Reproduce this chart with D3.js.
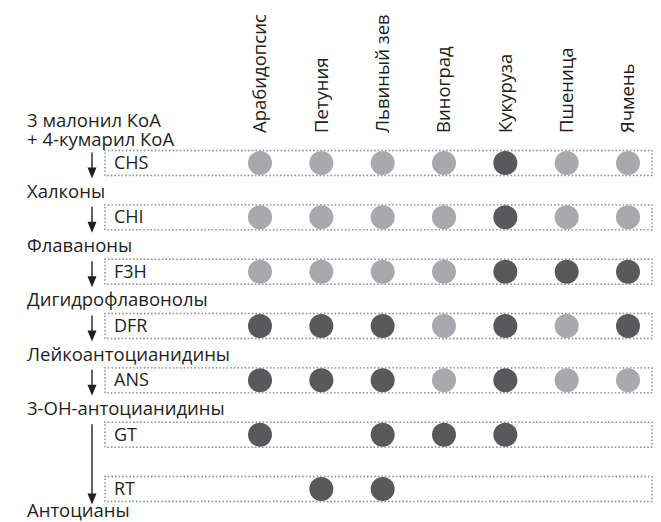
<!DOCTYPE html>
<html>
<head>
<meta charset="utf-8">
<script src="https://cdn.jsdelivr.net/npm/d3@7"></script>
<style>
  body { margin: 0; background: #fff; }
  text { font-family: "Open Sans", sans-serif; fill: #231f20; }
</style>
</head>
<body>
<div id="chart"></div>
<script>
// Species (columns)
const species = ['Арабидопсис', 'Петуния', 'Львиный зев', 'Виноград', 'Кукуруза', 'Пшеница', 'Ячмень'];

// Enzymes (rows)
const enzymes = ['CHS', 'CHI', 'F3H', 'DFR', 'ANS', 'GT', 'RT'];

// Compounds between steps
const startCompound = ['3 малонил КоА', '+ 4-кумарил КоА'];
const compounds = ['Халконы', 'Флаваноны', 'Дигидрофлавонолы', 'Лейкоантоцианидины', '3-OH-антоцианидины', null, 'Антоцианы'];

// 1 = dark (expressed), 0 = light, null = nothing
const expression = [
    [0, 0, 0, 0, 1, 0, 0],
    [0, 0, 0, 0, 1, 0, 0],
    [0, 0, 0, 0, 1, 1, 1],
    [1, 1, 1, 0, 1, 0, 1],
    [1, 1, 1, 0, 1, 0, 0],
    [1, null, 1, 1, 1, null, null],
    [null, 1, 1, null, null, null, null]
];

// arrows: [from enzyme, to enzyme]
const arrows = [['CHS', 'CHS'], ['CHI', 'CHI'], ['F3H', 'F3H'], ['DFR', 'DFR'], ['ANS', 'ANS'], ['GT', 'RT']];

const width = 661;
const height = 522;

const svg = d3.select('#chart')
    .append('svg')
    .attr('width', width)
    .attr('height', height);

const x = d3.scalePoint().domain(species).range([260, 628]);
const y = d3.scalePoint().domain(enzymes).range([163, 489]);
const color = d3.scaleOrdinal().domain([0, 1]).range(['#a7a9ac', '#58595b']);

const boxLeft = 105;
const boxRight = 652;
const boxH = 25;
const arrowX = 92;

// Column headers
svg.append('g')
    .selectAll('text')
    .data(species)
    .enter()
    .append('text')
    .attr('transform', d => `translate(${x(d)},133) rotate(-90)`)
    .attr('dy', '0.35em')
    .attr('font-size', 18.5)
    .text(d => d);

// Dotted boxes
svg.append('g')
    .selectAll('rect')
    .data(enzymes)
    .enter()
    .append('rect')
    .attr('x', boxLeft)
    .attr('y', d => y(d) - boxH / 2)
    .attr('width', boxRight - boxLeft)
    .attr('height', boxH)
    .attr('fill', 'none')
    .attr('stroke', '#939598')
    .attr('stroke-width', 1.8)
    .attr('stroke-linecap', 'round')
    .attr('stroke-dasharray', '0,3.6');

// Enzyme labels
svg.append('g')
    .selectAll('text')
    .data(enzymes)
    .enter()
    .append('text')
    .attr('x', 114)
    .attr('y', d => y(d) + 6)
    .attr('font-size', 18)
    .text(d => d);

// Circles
const cells = [];
expression.forEach((row, i) => {
    row.forEach((v, j) => {
        if (v !== null) cells.push({ enzyme: enzymes[i], species: species[j], v: v });
    });
});

svg.append('g')
    .selectAll('circle')
    .data(cells)
    .enter()
    .append('circle')
    .attr('cx', d => x(d.species))
    .attr('cy', d => y(d.enzyme))
    .attr('r', 12)
    .attr('fill', d => color(d.v));

// Start compound (two lines)
svg.append('g')
    .selectAll('text')
    .data(startCompound)
    .enter()
    .append('text')
    .attr('x', 27)
    .attr('y', (d, i) => 127 + i * 19)
    .attr('font-size', 18.5)
    .text(d => d);

// Compound labels
svg.append('g')
    .selectAll('text')
    .data(compounds.map((c, i) => ({ c: c, enzyme: enzymes[i] })).filter(d => d.c !== null))
    .enter()
    .append('text')
    .attr('x', 27)
    .attr('y', d => y(d.enzyme) + (d.enzyme === 'RT' ? 28 : 34.5))
    .attr('font-size', 18.5)
    .text(d => d.c);

// Arrows
const arrowG = svg.append('g');
arrows.forEach(([a, b]) => {
    const y0 = y(a) - boxH / 2 + 2;
    const y1 = y(b) + boxH / 2 + 3;
    arrowG.append('line')
        .attr('x1', arrowX)
        .attr('x2', arrowX)
        .attr('y1', y0)
        .attr('y2', y1 - 8)
        .attr('stroke', '#231f20')
        .attr('stroke-width', 1.4);
    arrowG.append('path')
        .attr('d', d3.line()([[arrowX - 4.5, y1 - 11], [arrowX + 4.5, y1 - 11], [arrowX, y1]]) + 'Z')
        .attr('fill', '#231f20');
});
</script>
</body>
</html>
